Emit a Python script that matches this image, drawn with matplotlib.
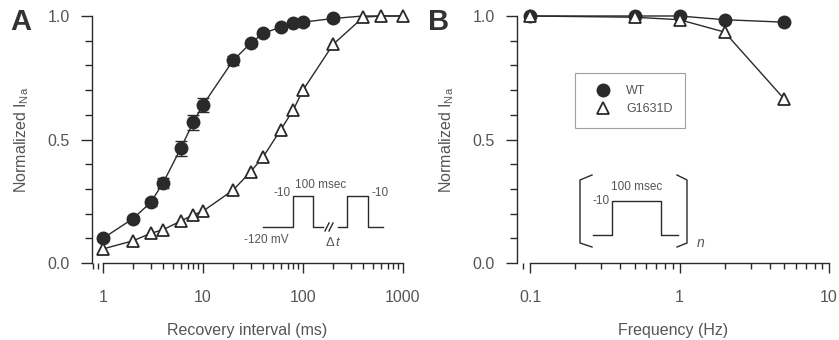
import matplotlib
matplotlib.use('Agg')
import matplotlib.pyplot as plt
from matplotlib.lines import Line2D
from matplotlib.ticker import FixedLocator, LogLocator, NullFormatter, FixedFormatter

plt.rcParams['font.family'] = ['Liberation Sans', 'DejaVu Sans']
plt.rcParams['mathtext.fontset'] = 'custom'
plt.rcParams['mathtext.rm'] = 'Liberation Sans'
plt.rcParams['mathtext.it'] = 'Liberation Sans:italic'

# panel A: recovery from inactivation
recovery_ms = [1, 2, 3, 4, 6, 8, 10, 20, 30, 40, 60, 80, 100, 200, 400, 600, 1000]
wt_recovery = [0.10, 0.18, 0.245, 0.325, 0.465, 0.57, 0.64, 0.82, 0.89, 0.93,
               0.955, 0.97, 0.975, 0.99, 1.0, 1.0, 1.0]
wt_err = [0.01, 0.01, 0.015, 0.02, 0.03, 0.03, 0.03, 0.02, 0.01, 0.01,
          0.01, 0.01, 0.01, 0.01, 0, 0, 0]
mut_recovery = [0.057, 0.09, 0.12, 0.135, 0.17, 0.195, 0.21, 0.295, 0.37, 0.43,
                0.54, 0.62, 0.70, 0.885, 0.995, 1.0, 1.0]
n_wt_markers = 14

# panel B: use-dependence
freq_hz = [0.1, 0.5, 1, 2, 5]
wt_freq = [1.0, 1.0, 1.0, 0.985, 0.975]
mut_freq = [1.0, 0.995, 0.985, 0.935, 0.665]

W, H = 839, 340
ink = '#2a2a2a'
txt = '#555555'

fig = plt.figure(figsize=(W / 100, H / 100), dpi=100)


def style_axis(ax, xmin, xmax):
    ax.set_xscale('log')
    for s in ['top', 'right']:
        ax.spines[s].set_visible(False)
    ax.spines['left'].set_bounds(0, 1)
    ax.spines['bottom'].set_bounds(xmin, xmax)
    for s in ['left', 'bottom']:
        ax.spines[s].set_color(ink)
        ax.spines[s].set_linewidth(1.0)
    ax.set_ylim(0, 1)
    ax.yaxis.set_major_locator(FixedLocator([0, 0.5, 1.0]))
    ax.yaxis.set_major_formatter(FixedFormatter(['0.0', '0.5', '1.0']))
    ax.yaxis.set_minor_locator(FixedLocator([0.1, 0.2, 0.3, 0.4, 0.6, 0.7, 0.8, 0.9]))
    ax.xaxis.set_minor_locator(LogLocator(base=10, subs=range(2, 10)))
    ax.xaxis.set_minor_formatter(NullFormatter())
    ax.tick_params(which='both', direction='out', color=ink, width=1.0,
                   labelcolor=txt, labelsize=11.5)
    ax.tick_params(axis='y', which='major', length=8, pad=8)
    ax.tick_params(axis='y', which='minor', length=5)
    ax.tick_params(axis='x', which='major', length=7, pad=12.5)
    ax.tick_params(axis='x', which='minor', length=4)
    ax.set_ylabel('Normalized I$_{\\mathrm{Na}}$', color=txt, fontsize=11.5, labelpad=12)


# ---- panel A
axA = fig.add_axes([92 / W, 1 - 263 / H, (403 - 92) / W, (263 - 16) / H])
style_axis(axA, 1, 1000)
axA.set_xlim(10 ** -0.11, 1000)
axA.xaxis.set_major_locator(FixedLocator([1, 10, 100, 1000]))
axA.xaxis.set_major_formatter(FixedFormatter(['1', '10', '100', '1000']))
axA.set_xlabel('Recovery interval (ms)', color=txt, fontsize=11.5, labelpad=13)

axA.errorbar(recovery_ms[:n_wt_markers], wt_recovery[:n_wt_markers],
             yerr=wt_err[:n_wt_markers], fmt='none', ecolor=ink, elinewidth=1,
             capsize=4, clip_on=False, zorder=2)
axA.plot(recovery_ms, wt_recovery, '-', color=ink, lw=1, marker='o', ms=9,
         mfc=ink, mec=ink, markevery=list(range(n_wt_markers)), clip_on=False, zorder=3)
axA.plot(recovery_ms, mut_recovery, '-', color=ink, lw=1, marker='^', ms=8,
         mfc='white', mec=ink, mew=1.3, clip_on=False, zorder=4)

# ---- panel B
axB = fig.add_axes([517 / W, 1 - 263 / H, (829 - 517) / W, (263 - 16) / H])
style_axis(axB, 0.1, 10)
axB.set_xlim(0.1 * 10 ** -0.087, 10)
axB.xaxis.set_major_locator(FixedLocator([0.1, 1, 10]))
axB.xaxis.set_major_formatter(FixedFormatter(['0.1', '1', '10']))
axB.set_xlabel('Frequency (Hz)', color=txt, fontsize=11.5, labelpad=13)

axB.plot(freq_hz, wt_freq, '-', color=ink, lw=1, marker='o', ms=9,
         mfc=ink, mec=ink, clip_on=False, zorder=3)
axB.plot(freq_hz, mut_freq, '-', color=ink, lw=1, marker='^', ms=8,
         mfc='white', mec=ink, mew=1.3, clip_on=False, zorder=4)

handles = [Line2D([], [], ls='none', marker='o', ms=9, mfc=ink, mec=ink),
           Line2D([], [], ls='none', marker='^', ms=8, mfc='white', mec=ink, mew=1.3)]
leg = axB.legend(handles, ['WT', 'G1631D'], loc='upper left',
                 bbox_to_anchor=((575 - 517) / 312, (263 - 73) / 247),
                 frameon=True, fancybox=False, edgecolor='#888888', fontsize=9,
                 handlelength=2.5, handletextpad=0.6, borderpad=1.0,
                 labelspacing=0.45, borderaxespad=0)
leg.get_frame().set_linewidth(0.8)
for t in leg.get_texts():
    t.set_color(txt)

# panel letters
fig.text(10 / W, 1 - 22 / H, 'A', fontsize=21, fontweight='bold', color='#333333',
         va='center', ha='left')
fig.text(428 / W, 1 - 22 / H, 'B', fontsize=21, fontweight='bold', color='#333333',
         va='center', ha='left')

# ---- protocol sketches (pixel coordinates overlay)
ov = fig.add_axes([0, 0, 1, 1])
ov.set_xlim(0, W)
ov.set_ylim(H, 0)
ov.axis('off')
lw = 1.0
ov.plot([263, 293, 293, 313, 313, 323], [227, 227, 196, 196, 227, 227], color=ink, lw=lw)
ov.plot([338, 347, 347, 368, 368, 383], [227, 227, 196, 196, 227, 227], color=ink, lw=lw)
ov.plot([325, 329], [231, 223], color=ink, lw=lw)
ov.plot([329, 333], [231, 223], color=ink, lw=lw)
ov.text(321, 185, '100 msec', fontsize=8.5, color=txt, ha='center', va='center')
ov.text(291, 193, '-10', fontsize=8.5, color=txt, ha='right', va='center')
ov.text(371, 193, '-10', fontsize=8.5, color=txt, ha='left', va='center')
ov.text(266, 240, '-120 mV', fontsize=8.5, color=txt, ha='center', va='center')
ov.text(333, 242, r'$\Delta\,t$', fontsize=9.5, color=txt, ha='center', va='center')

ov.plot([593, 612, 612, 661, 661, 678], [235, 235, 201, 201, 235, 235], color=ink, lw=lw)
ov.plot([592, 580, 580, 592], [175, 180, 243, 247], color=ink, lw=lw)
ov.plot([677, 687, 687, 677], [175, 180, 243, 247], color=ink, lw=lw)
ov.text(637, 187, '100 msec', fontsize=8.5, color=txt, ha='center', va='center')
ov.text(610, 201, '-10', fontsize=8.5, color=txt, ha='right', va='center')
ov.text(701, 243, 'n', fontsize=10, color=txt, style='italic', ha='center', va='center')

fig.savefig('out.png', dpi=100)
